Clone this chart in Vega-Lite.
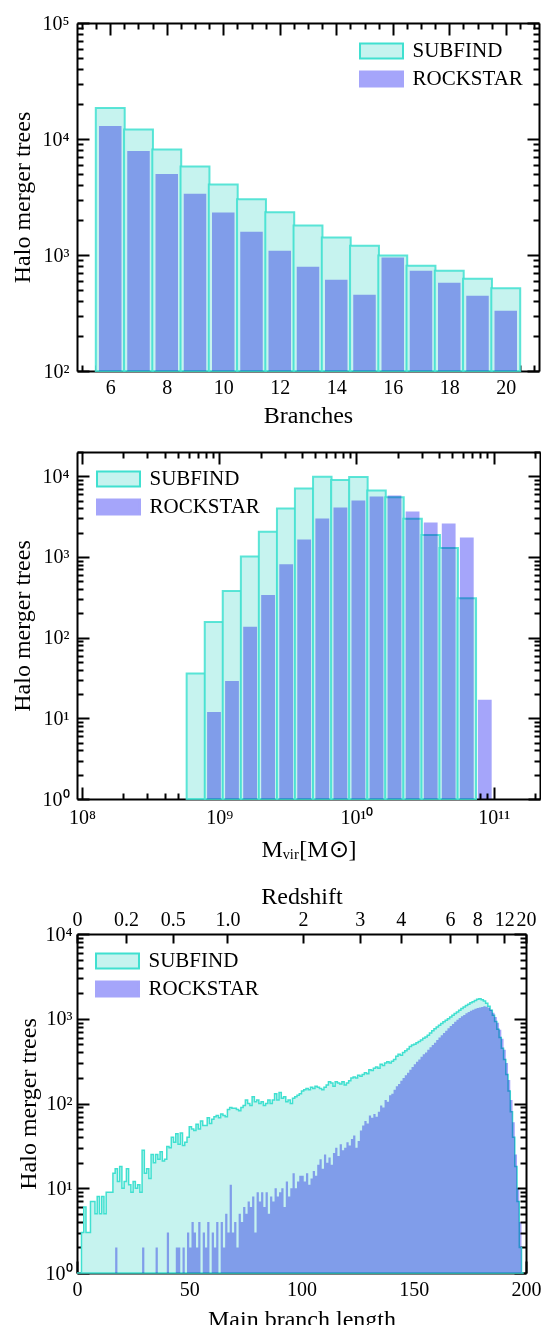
{
"$schema":"https://vega.github.io/schema/vega-lite/v6.json",
"padding":{"left":10,"top":13,"right":0,"bottom":0},
"config":{"font":"Liberation Serif","view":{"stroke":null},
"axis":{"domainColor":"#000","domainWidth":2,"tickColor":"#000","tickWidth":2,"labelColor":"#000","titleColor":"#000","labelFontSize":20,"titleFontSize":24,"titleFontWeight":"normal","labelFlush":false,"labelOverlap":false,"labelBound":false,"grid":false,"labelFont":"Liberation Serif","titleFont":"Liberation Serif"},
"legend":{"labelFont":"Liberation Serif","labelFontSize":21,"labelColor":"#000","symbolStrokeWidth":2}},
"datasets":{
"br_subfind":[{"branches":6,"trees":18500},{"branches":7,"trees":12100},{"branches":8,"trees":8110},{"branches":9,"trees":5790},{"branches":10,"trees":4050},{"branches":11,"trees":3030},{"branches":12,"trees":2340},{"branches":13,"trees":1796},{"branches":14,"trees":1415},{"branches":15,"trees":1200},{"branches":16,"trees":991},{"branches":17,"trees":807},{"branches":18,"trees":731},{"branches":19,"trees":624},{"branches":20,"trees":518}],
"br_rockstar":[{"branches":6,"trees":12970},{"branches":7,"trees":7890},{"branches":8,"trees":5000},{"branches":9,"trees":3365},{"branches":10,"trees":2325},{"branches":11,"trees":1585},{"branches":12,"trees":1087},{"branches":13,"trees":791},{"branches":14,"trees":611},{"branches":15,"trees":454},{"branches":16,"trees":953},{"branches":17,"trees":731},{"branches":18,"trees":577},{"branches":19,"trees":445},{"branches":20,"trees":330}],
"m_subfind":[{"mvir":676000000,"trees":36},{"mvir":916000000,"trees":156},{"mvir":1239000000,"trees":379},{"mvir":1679000000,"trees":1016},{"mvir":2270000000,"trees":2051},{"mvir":3076000000,"trees":3985},{"mvir":4159000000,"trees":7040},{"mvir":5636000000,"trees":9850},{"mvir":7638000000,"trees":9010},{"mvir":10330000000,"trees":9810},{"mvir":14000000000,"trees":6650},{"mvir":18920000000,"trees":5500},{"mvir":25640000000,"trees":2970},{"mvir":34750000000,"trees":1866},{"mvir":46990000000,"trees":1289},{"mvir":63680000000,"trees":308}],
"m_rockstar":[{"mvir":916000000,"trees":12},{"mvir":1239000000,"trees":29},{"mvir":1679000000,"trees":136},{"mvir":2270000000,"trees":338},{"mvir":3076000000,"trees":810},{"mvir":4159000000,"trees":1650},{"mvir":5636000000,"trees":3000},{"mvir":7638000000,"trees":4100},{"mvir":10330000000,"trees":5000},{"mvir":14000000000,"trees":5610},{"mvir":18920000000,"trees":5770},{"mvir":25640000000,"trees":3660},{"mvir":34750000000,"trees":2675},{"mvir":46990000000,"trees":2600},{"mvir":63680000000,"trees":1746},{"mvir":86100000000,"trees":17}],
"len_subfind":[{"len":0,"trees":0},{"len":1,"trees":0},{"len":2,"trees":3},{"len":3,"trees":6},{"len":4,"trees":3},{"len":5,"trees":3},{"len":6,"trees":7},{"len":7,"trees":7},{"len":8,"trees":5},{"len":9,"trees":8},{"len":10,"trees":5},{"len":11,"trees":8},{"len":12,"trees":5},{"len":13,"trees":9},{"len":14,"trees":9},{"len":15,"trees":9},{"len":16,"trees":15},{"len":17,"trees":17},{"len":18,"trees":12},{"len":19,"trees":18},{"len":20,"trees":10},{"len":21,"trees":12},{"len":22,"trees":17},{"len":23,"trees":11},{"len":24,"trees":9},{"len":25,"trees":12},{"len":26,"trees":10},{"len":27,"trees":11},{"len":28,"trees":9},{"len":29,"trees":28},{"len":30,"trees":15},{"len":31,"trees":17},{"len":32,"trees":13},{"len":33,"trees":25},{"len":34,"trees":20},{"len":35,"trees":25},{"len":36,"trees":22},{"len":37,"trees":27},{"len":38,"trees":21},{"len":39,"trees":22},{"len":40,"trees":31},{"len":41,"trees":30},{"len":42,"trees":40},{"len":43,"trees":35},{"len":44,"trees":44},{"len":45,"trees":33},{"len":46,"trees":45},{"len":47,"trees":32},{"len":48,"trees":35},{"len":49,"trees":40},{"len":50,"trees":53},{"len":51,"trees":50},{"len":52,"trees":48},{"len":53,"trees":57},{"len":54,"trees":50},{"len":55,"trees":62},{"len":56,"trees":55},{"len":57,"trees":55},{"len":58,"trees":68},{"len":59,"trees":58},{"len":60,"trees":65},{"len":61,"trees":70},{"len":62,"trees":72},{"len":63,"trees":68},{"len":64,"trees":75},{"len":65,"trees":72},{"len":66,"trees":70},{"len":67,"trees":85},{"len":68,"trees":90},{"len":69,"trees":88},{"len":70,"trees":88},{"len":71,"trees":85},{"len":72,"trees":82},{"len":73,"trees":90},{"len":74,"trees":95},{"len":75,"trees":110},{"len":76,"trees":100},{"len":77,"trees":95},{"len":78,"trees":120},{"len":79,"trees":105},{"len":80,"trees":110},{"len":81,"trees":100},{"len":82,"trees":105},{"len":83,"trees":95},{"len":84,"trees":100},{"len":85,"trees":110},{"len":86,"trees":100},{"len":87,"trees":110},{"len":88,"trees":130},{"len":89,"trees":110},{"len":90,"trees":135},{"len":91,"trees":115},{"len":92,"trees":120},{"len":93,"trees":105},{"len":94,"trees":110},{"len":95,"trees":100},{"len":96,"trees":115},{"len":97,"trees":120},{"len":98,"trees":125},{"len":99,"trees":130},{"len":100,"trees":140},{"len":101,"trees":145},{"len":102,"trees":150},{"len":103,"trees":145},{"len":104,"trees":155},{"len":105,"trees":150},{"len":106,"trees":160},{"len":107,"trees":155},{"len":108,"trees":150},{"len":109,"trees":145},{"len":110,"trees":155},{"len":111,"trees":165},{"len":112,"trees":180},{"len":113,"trees":175},{"len":114,"trees":160},{"len":115,"trees":180},{"len":116,"trees":175},{"len":117,"trees":170},{"len":118,"trees":180},{"len":119,"trees":165},{"len":120,"trees":175},{"len":121,"trees":185},{"len":122,"trees":200},{"len":123,"trees":205},{"len":124,"trees":200},{"len":125,"trees":215},{"len":126,"trees":210},{"len":127,"trees":220},{"len":128,"trees":230},{"len":129,"trees":225},{"len":130,"trees":250},{"len":131,"trees":245},{"len":132,"trees":260},{"len":133,"trees":270},{"len":134,"trees":260},{"len":135,"trees":290},{"len":136,"trees":280},{"len":137,"trees":300},{"len":138,"trees":310},{"len":139,"trees":300},{"len":140,"trees":315},{"len":141,"trees":330},{"len":142,"trees":360},{"len":143,"trees":380},{"len":144,"trees":370},{"len":145,"trees":400},{"len":146,"trees":420},{"len":147,"trees":440},{"len":148,"trees":470},{"len":149,"trees":490},{"len":150,"trees":500},{"len":151,"trees":520},{"len":152,"trees":540},{"len":153,"trees":560},{"len":154,"trees":590},{"len":155,"trees":610},{"len":156,"trees":640},{"len":157,"trees":680},{"len":158,"trees":720},{"len":159,"trees":760},{"len":160,"trees":800},{"len":161,"trees":840},{"len":162,"trees":880},{"len":163,"trees":920},{"len":164,"trees":960},{"len":165,"trees":1000},{"len":166,"trees":1050},{"len":167,"trees":1100},{"len":168,"trees":1150},{"len":169,"trees":1200},{"len":170,"trees":1260},{"len":171,"trees":1320},{"len":172,"trees":1380},{"len":173,"trees":1430},{"len":174,"trees":1480},{"len":175,"trees":1540},{"len":176,"trees":1590},{"len":177,"trees":1640},{"len":178,"trees":1700},{"len":179,"trees":1720},{"len":180,"trees":1680},{"len":181,"trees":1620},{"len":182,"trees":1520},{"len":183,"trees":1400},{"len":184,"trees":1260},{"len":185,"trees":1100},{"len":186,"trees":930},{"len":187,"trees":750},{"len":188,"trees":600},{"len":189,"trees":450},{"len":190,"trees":330},{"len":191,"trees":220},{"len":192,"trees":140},{"len":193,"trees":80},{"len":194,"trees":40},{"len":195,"trees":18},{"len":196,"trees":7},{"len":197,"trees":2},{"len":198,"trees":0},{"len":199,"trees":0}],
"len_rockstar":[{"len":0,"trees":0},{"len":1,"trees":0},{"len":2,"trees":0},{"len":3,"trees":0},{"len":4,"trees":0},{"len":5,"trees":0},{"len":6,"trees":0},{"len":7,"trees":0},{"len":8,"trees":0},{"len":9,"trees":0},{"len":10,"trees":0},{"len":11,"trees":0},{"len":12,"trees":0},{"len":13,"trees":0},{"len":14,"trees":0},{"len":15,"trees":0},{"len":16,"trees":0},{"len":17,"trees":2},{"len":18,"trees":0},{"len":19,"trees":0},{"len":20,"trees":0},{"len":21,"trees":0},{"len":22,"trees":0},{"len":23,"trees":0},{"len":24,"trees":0},{"len":25,"trees":0},{"len":26,"trees":0},{"len":27,"trees":0},{"len":28,"trees":0},{"len":29,"trees":2},{"len":30,"trees":0},{"len":31,"trees":0},{"len":32,"trees":0},{"len":33,"trees":0},{"len":34,"trees":0},{"len":35,"trees":2},{"len":36,"trees":0},{"len":37,"trees":0},{"len":38,"trees":0},{"len":39,"trees":0},{"len":40,"trees":3},{"len":41,"trees":0},{"len":42,"trees":0},{"len":43,"trees":0},{"len":44,"trees":2},{"len":45,"trees":2},{"len":46,"trees":0},{"len":47,"trees":2},{"len":48,"trees":0},{"len":49,"trees":3},{"len":50,"trees":2},{"len":51,"trees":4},{"len":52,"trees":3},{"len":53,"trees":2},{"len":54,"trees":4},{"len":55,"trees":0},{"len":56,"trees":3},{"len":57,"trees":2},{"len":58,"trees":4},{"len":59,"trees":0},{"len":60,"trees":3},{"len":61,"trees":2},{"len":62,"trees":4},{"len":63,"trees":0},{"len":64,"trees":4},{"len":65,"trees":2},{"len":66,"trees":5},{"len":67,"trees":3},{"len":68,"trees":11},{"len":69,"trees":3},{"len":70,"trees":4},{"len":71,"trees":2},{"len":72,"trees":5},{"len":73,"trees":4},{"len":74,"trees":6},{"len":75,"trees":5},{"len":76,"trees":7},{"len":77,"trees":6},{"len":78,"trees":8},{"len":79,"trees":3},{"len":80,"trees":9},{"len":81,"trees":7},{"len":82,"trees":9},{"len":83,"trees":6},{"len":84,"trees":9},{"len":85,"trees":5},{"len":86,"trees":8},{"len":87,"trees":7},{"len":88,"trees":10},{"len":89,"trees":8},{"len":90,"trees":9},{"len":91,"trees":10},{"len":92,"trees":6},{"len":93,"trees":12},{"len":94,"trees":8},{"len":95,"trees":10},{"len":96,"trees":15},{"len":97,"trees":10},{"len":98,"trees":12},{"len":99,"trees":14},{"len":100,"trees":14},{"len":101,"trees":12},{"len":102,"trees":15},{"len":103,"trees":11},{"len":104,"trees":13},{"len":105,"trees":16},{"len":106,"trees":14},{"len":107,"trees":19},{"len":108,"trees":22},{"len":109,"trees":17},{"len":110,"trees":25},{"len":111,"trees":20},{"len":112,"trees":23},{"len":113,"trees":19},{"len":114,"trees":26},{"len":115,"trees":30},{"len":116,"trees":24},{"len":117,"trees":33},{"len":118,"trees":28},{"len":119,"trees":30},{"len":120,"trees":35},{"len":121,"trees":32},{"len":122,"trees":38},{"len":123,"trees":42},{"len":124,"trees":30},{"len":125,"trees":36},{"len":126,"trees":48},{"len":127,"trees":55},{"len":128,"trees":62},{"len":129,"trees":58},{"len":130,"trees":72},{"len":131,"trees":68},{"len":132,"trees":75},{"len":133,"trees":70},{"len":134,"trees":80},{"len":135,"trees":95},{"len":136,"trees":90},{"len":137,"trees":110},{"len":138,"trees":105},{"len":139,"trees":125},{"len":140,"trees":130},{"len":141,"trees":145},{"len":142,"trees":160},{"len":143,"trees":170},{"len":144,"trees":185},{"len":145,"trees":200},{"len":146,"trees":215},{"len":147,"trees":230},{"len":148,"trees":250},{"len":149,"trees":270},{"len":150,"trees":290},{"len":151,"trees":310},{"len":152,"trees":330},{"len":153,"trees":355},{"len":154,"trees":380},{"len":155,"trees":400},{"len":156,"trees":430},{"len":157,"trees":460},{"len":158,"trees":490},{"len":159,"trees":520},{"len":160,"trees":560},{"len":161,"trees":600},{"len":162,"trees":640},{"len":163,"trees":680},{"len":164,"trees":720},{"len":165,"trees":770},{"len":166,"trees":820},{"len":167,"trees":870},{"len":168,"trees":920},{"len":169,"trees":970},{"len":170,"trees":1020},{"len":171,"trees":1070},{"len":172,"trees":1110},{"len":173,"trees":1160},{"len":174,"trees":1200},{"len":175,"trees":1240},{"len":176,"trees":1280},{"len":177,"trees":1310},{"len":178,"trees":1340},{"len":179,"trees":1360},{"len":180,"trees":1380},{"len":181,"trees":1400},{"len":182,"trees":1390},{"len":183,"trees":1350},{"len":184,"trees":1280},{"len":185,"trees":1180},{"len":186,"trees":1050},{"len":187,"trees":900},{"len":188,"trees":740},{"len":189,"trees":580},{"len":190,"trees":430},{"len":191,"trees":300},{"len":192,"trees":190},{"len":193,"trees":110},{"len":194,"trees":60},{"len":195,"trees":25},{"len":196,"trees":10},{"len":197,"trees":4},{"len":198,"trees":1},{"len":199,"trees":0}]
},
"concat":[
{"concat":[
{"width":462,"height":348,
"resolve":{"axis":{"x":"independent","y":"independent"}},
"layer":[
{"data":{"name":"br_subfind"},
"mark":{"type":"bar","size":28.9,"strokeOpacity":0.85,"strokeWidth":2},
"encoding":{
"x":{"field":"branches","type":"quantitative","scale":{"domain":[5,21],"nice":false,"zero":false},
"axis":{"orient":"bottom","values":[5,5.5,6,6.5,7,7.5,8,8.5,9,9.5,10,10.5,11,11.5,12,12.5,13,13.5,14,14.5,15,15.5,16,16.5,17,17.5,18,18.5,19,19.5,20,20.5,21],"tickSize":{"condition":{"test":"datum.value % 2 === 0","value":-12},"value":-6},"labelExpr":"datum.value % 2 === 0 ? format(datum.value, 'd') : ''","labelPadding":18,"labelFont":"Liberation Serif","titleFont":"Liberation Serif","title":"Branches","titlePadding":0}},
"y":{"field":"trees","type":"quantitative","stack":null,"scale":{"type":"log","domain":[100,100000],"nice":false},
"axis":{"orient":"left","values":[100,200,300,400,500,600,700,800,900,1000,2000,3000,4000,5000,6000,7000,8000,9000,10000,20000,30000,40000,50000,60000,70000,80000,90000,100000],"tickSize":{"condition":{"test":"indexof([100,1000,10000,100000], datum.value) >= 0","value":-12},"value":-6},"labelExpr":"indexof([100,1000,10000,100000], datum.value) >= 0 ? '10' + ['²','³','⁴','⁵'][indexof([100,1000,10000,100000], datum.value)] : ''","labelPadding":20,"labelFont":"Liberation Serif","titleFont":"Liberation Serif","title":"Halo merger trees","titlePadding":8}},
"fill":{"datum":"SUBFIND","type":"nominal","scale":{"domain":["SUBFIND","ROCKSTAR"],"range":["#c6f3ef","#a5a5fa"]},
"legend":{"orient":"none","legendX":282,"legendY":12,"title":null,"symbolType":"M-1.433,-0.5H1.433V0.5H-1.433Z","symbolSize":900,"symbolOffset":6.5,"labelOffset":15,"rowPadding":0,"padding":0,"labelFontSize":21,"labelFont":"Liberation Serif","labelColor":"#000","symbolStrokeWidth":2}},
"stroke":{"datum":"SUBFIND","type":"nominal","scale":{"domain":["SUBFIND","ROCKSTAR"],"range":["#40e0d0","#a5a5fa"]},
"legend":{"orient":"none","legendX":282,"legendY":12,"title":null,"symbolType":"M-1.433,-0.5H1.433V0.5H-1.433Z","symbolSize":900,"symbolOffset":6.5,"labelOffset":15,"rowPadding":0,"padding":0,"labelFontSize":21,"labelFont":"Liberation Serif","labelColor":"#000","symbolStrokeWidth":2}}
}},
{"data":{"name":"br_rockstar"},
"mark":{"type":"bar","size":22.5,"blend":"multiply","strokeWidth":0},
"encoding":{
"x":{"field":"branches","type":"quantitative","scale":{"domain":[5,21],"nice":false,"zero":false},
"axis":{"orient":"top","values":[5,5.5,6,6.5,7,7.5,8,8.5,9,9.5,10,10.5,11,11.5,12,12.5,13,13.5,14,14.5,15,15.5,16,16.5,17,17.5,18,18.5,19,19.5,20,20.5,21],"tickSize":{"condition":{"test":"datum.value % 2 === 0","value":-12},"value":-6},"labels":false,"title":null}},
"y":{"field":"trees","type":"quantitative","stack":null,"scale":{"type":"log","domain":[100,100000],"nice":false},
"axis":{"orient":"right","values":[100,200,300,400,500,600,700,800,900,1000,2000,3000,4000,5000,6000,7000,8000,9000,10000,20000,30000,40000,50000,60000,70000,80000,90000,100000],"tickSize":{"condition":{"test":"indexof([100,1000,10000,100000], datum.value) >= 0","value":-12},"value":-6},"labels":false,"title":null}},
"fill":{"datum":"ROCKSTAR","type":"nominal","scale":{"domain":["SUBFIND","ROCKSTAR"],"range":["#c6f3ef","#a5a5fa"]}},
"stroke":{"datum":"ROCKSTAR","type":"nominal","scale":{"domain":["SUBFIND","ROCKSTAR"],"range":["#40e0d0","#a5a5fa"]}}
}}
]},
{"width":463,"height":347,
"resolve":{"axis":{"x":"independent","y":"independent"}},
"layer":[
{"data":{"name":"m_subfind"},
"mark":{"type":"bar","size":18.5,"strokeOpacity":0.85,"strokeWidth":2},
"encoding":{
"x":{"field":"mvir","type":"quantitative","scale":{"type":"log","domain":[100000000,200000000000],"nice":false},
"axis":{"orient":"bottom","values":[100000000,200000000,300000000,400000000,500000000,600000000,700000000,800000000,900000000,1000000000,2000000000,3000000000,4000000000,5000000000,6000000000,7000000000,8000000000,9000000000,10000000000,20000000000,30000000000,40000000000,50000000000,60000000000,70000000000,80000000000,90000000000,100000000000,200000000000],"tickSize":{"condition":{"test":"indexof([100000000,1000000000,10000000000,100000000000], datum.value) >= 0","value":-12},"value":-6},"labelExpr":"indexof([100000000,1000000000,10000000000,100000000000], datum.value) >= 0 ? '10' + ['⁸','⁹','¹⁰','¹¹'][indexof([100000000,1000000000,10000000000,100000000000], datum.value)] : ''","labelPadding":20,"labelFont":"Liberation Serif","titleFont":"Liberation Serif","title":"Mᵥᵢᵣ[M⊙]","titlePadding":4}},
"y":{"field":"trees","type":"quantitative","stack":null,"scale":{"type":"log","domain":[1,20000],"nice":false},
"axis":{"orient":"left","values":[1,2,3,4,5,6,7,8,9,10,20,30,40,50,60,70,80,90,100,200,300,400,500,600,700,800,900,1000,2000,3000,4000,5000,6000,7000,8000,9000,10000,20000],"tickSize":{"condition":{"test":"indexof([1,10,100,1000,10000], datum.value) >= 0","value":-12},"value":-6},"labelExpr":"indexof([1,10,100,1000,10000], datum.value) >= 0 ? '10' + ['⁰','¹','²','³','⁴'][indexof([1,10,100,1000,10000], datum.value)] : ''","labelPadding":20,"labelFont":"Liberation Serif","titleFont":"Liberation Serif","title":"Halo merger trees","titlePadding":8}},
"fill":{"datum":"SUBFIND","type":"nominal","scale":{"domain":["SUBFIND","ROCKSTAR"],"range":["#c6f3ef","#a5a5fa"]},
"legend":{"orient":"none","legendX":19,"legendY":11,"title":null,"symbolType":"M-1.433,-0.5H1.433V0.5H-1.433Z","symbolSize":900,"symbolOffset":6.5,"labelOffset":15,"rowPadding":0,"padding":0,"labelFontSize":21,"labelFont":"Liberation Serif","labelColor":"#000","symbolStrokeWidth":2}},
"stroke":{"datum":"SUBFIND","type":"nominal","scale":{"domain":["SUBFIND","ROCKSTAR"],"range":["#40e0d0","#a5a5fa"]},
"legend":{"orient":"none","legendX":19,"legendY":11,"title":null,"symbolType":"M-1.433,-0.5H1.433V0.5H-1.433Z","symbolSize":900,"symbolOffset":6.5,"labelOffset":15,"rowPadding":0,"padding":0,"labelFontSize":21,"labelFont":"Liberation Serif","labelColor":"#000","symbolStrokeWidth":2}}
}},
{"data":{"name":"m_rockstar"},
"mark":{"type":"bar","size":13.8,"blend":"multiply","strokeWidth":0},
"encoding":{
"x":{"field":"mvir","type":"quantitative","scale":{"type":"log","domain":[100000000,200000000000],"nice":false},
"axis":{"orient":"top","values":[100000000,200000000,300000000,400000000,500000000,600000000,700000000,800000000,900000000,1000000000,2000000000,3000000000,4000000000,5000000000,6000000000,7000000000,8000000000,9000000000,10000000000,20000000000,30000000000,40000000000,50000000000,60000000000,70000000000,80000000000,90000000000,100000000000,200000000000],"tickSize":{"condition":{"test":"indexof([100000000,1000000000,10000000000,100000000000], datum.value) >= 0","value":-12},"value":-6},"labels":false,"title":null}},
"y":{"field":"trees","type":"quantitative","stack":null,"scale":{"type":"log","domain":[1,20000],"nice":false},
"axis":{"orient":"right","values":[1,2,3,4,5,6,7,8,9,10,20,30,40,50,60,70,80,90,100,200,300,400,500,600,700,800,900,1000,2000,3000,4000,5000,6000,7000,8000,9000,10000,20000],"tickSize":{"condition":{"test":"indexof([1,10,100,1000,10000], datum.value) >= 0","value":-12},"value":-6},"labels":false,"title":null}},
"fill":{"datum":"ROCKSTAR","type":"nominal","scale":{"domain":["SUBFIND","ROCKSTAR"],"range":["#c6f3ef","#a5a5fa"]}},
"stroke":{"datum":"ROCKSTAR","type":"nominal","scale":{"domain":["SUBFIND","ROCKSTAR"],"range":["#40e0d0","#a5a5fa"]}}
}}
]}
],"columns":1,"align":"none","spacing":15,"resolve":{"scale":{"fill":"independent","stroke":"independent"},"legend":{"fill":"independent","stroke":"independent"}}},
{"width":449,"height":339,
"resolve":{"axis":{"x":"independent","y":"independent"}},
"layer":[
{"data":{"name":"len_subfind"},
"mark":{"type":"area","interpolate":"step-after","strokeWidth":1.5},
"encoding":{
"x":{"field":"len","type":"quantitative","scale":{"domain":[0,200],"nice":false,"zero":false},
"axis":{"orient":"bottom","values":[0,10,20,30,40,50,60,70,80,90,100,110,120,130,140,150,160,170,180,190,200],"tickSize":{"condition":{"test":"datum.value % 50 === 0","value":-12},"value":-6},"labelExpr":"datum.value % 50 === 0 ? format(datum.value, 'd') : ''","labelPadding":18,"labelFont":"Liberation Serif","titleFont":"Liberation Serif","title":"Main branch length","titlePadding":2}},
"y":{"field":"trees","type":"quantitative","stack":null,"scale":{"type":"log","domain":[1,10000],"nice":false,"clamp":true},
"axis":{"orient":"left","values":[1,2,3,4,5,6,7,8,9,10,20,30,40,50,60,70,80,90,100,200,300,400,500,600,700,800,900,1000,2000,3000,4000,5000,6000,7000,8000,9000,10000],"tickSize":{"condition":{"test":"indexof([1,10,100,1000,10000], datum.value) >= 0","value":-12},"value":-6},"labelExpr":"indexof([1,10,100,1000,10000], datum.value) >= 0 ? '10' + ['⁰','¹','²','³','⁴'][indexof([1,10,100,1000,10000], datum.value)] : ''","labelPadding":17,"labelFont":"Liberation Serif","titleFont":"Liberation Serif","title":"Halo merger trees","titlePadding":5}},
"fill":{"datum":"SUBFIND","type":"nominal","scale":{"domain":["SUBFIND","ROCKSTAR"],"range":["#c6f3ef","#a5a5fa"]},
"legend":{"orient":"none","legendX":18,"legendY":11,"title":null,"symbolType":"M-1.433,-0.5H1.433V0.5H-1.433Z","symbolSize":900,"symbolOffset":6.5,"labelOffset":15,"rowPadding":0,"padding":0,"labelFontSize":21,"labelFont":"Liberation Serif","labelColor":"#000","symbolStrokeWidth":2}},
"stroke":{"datum":"SUBFIND","type":"nominal","scale":{"domain":["SUBFIND","ROCKSTAR"],"range":["#40e0d0","#a5a5fa"]},
"legend":{"orient":"none","legendX":18,"legendY":11,"title":null,"symbolType":"M-1.433,-0.5H1.433V0.5H-1.433Z","symbolSize":900,"symbolOffset":6.5,"labelOffset":15,"rowPadding":0,"padding":0,"labelFontSize":21,"labelFont":"Liberation Serif","labelColor":"#000","symbolStrokeWidth":2}}
}},
{"data":{"name":"len_rockstar"},
"mark":{"type":"area","interpolate":"step-after","blend":"multiply","strokeWidth":0},
"encoding":{
"x":{"field":"len","type":"quantitative","scale":{"domain":[0,200],"nice":false,"zero":false},
"axis":{"orient":"top","values":[0,21.8,42.6,67,100.7,126,144.2,166.2,178.3,190.3,200],"tickSize":-9,"labelExpr":"['0','0.2','0.5','1.0','2','3','4','6','8','12','20'][indexof([0,21.8,42.6,67,100.7,126,144.2,166.2,178.3,190.3,200], datum.value)]","labelPadding":14,"labelFont":"Liberation Serif","titleFont":"Liberation Serif","title":"Redshift","titlePadding":1}},
"y":{"field":"trees","type":"quantitative","stack":null,"scale":{"type":"log","domain":[1,10000],"nice":false,"clamp":true},
"axis":{"orient":"right","values":[1,2,3,4,5,6,7,8,9,10,20,30,40,50,60,70,80,90,100,200,300,400,500,600,700,800,900,1000,2000,3000,4000,5000,6000,7000,8000,9000,10000],"tickSize":{"condition":{"test":"indexof([1,10,100,1000,10000], datum.value) >= 0","value":-12},"value":-6},"labels":false,"title":null}},
"fill":{"datum":"ROCKSTAR","type":"nominal","scale":{"domain":["SUBFIND","ROCKSTAR"],"range":["#c6f3ef","#a5a5fa"]}},
"stroke":{"datum":"ROCKSTAR","type":"nominal","scale":{"domain":["SUBFIND","ROCKSTAR"],"range":["#40e0d0","#a5a5fa"]}}
}}
]}
],
"columns":1,"align":"none","spacing":23,
"resolve":{"scale":{"fill":"independent","stroke":"independent"},"legend":{"fill":"independent","stroke":"independent"}}
}
